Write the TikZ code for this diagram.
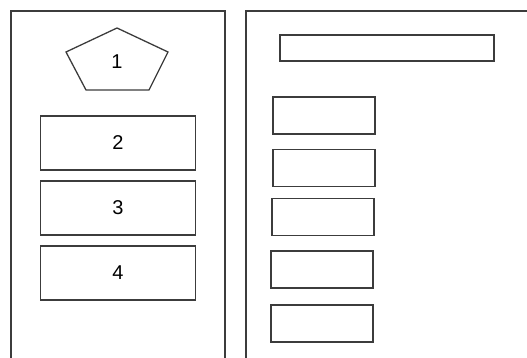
\documentclass[tikz,border=0pt]{standalone}
\usepackage{fontspec}
\setmainfont{Liberation Sans}
\definecolor{tratto}{RGB}{60,60,60}

\begin{document}
\begin{tikzpicture}[
  x=1pt, y=-1pt,
  font=\fontsize{20}{24}\selectfont,
  pannello/.style={draw=tratto, line width=1.4pt},
  casella/.style={draw=tratto, line width=1.5pt, inner sep=0pt,
                  minimum width=155pt, minimum height=54pt},
  casellina/.style={draw=tratto, line width=1.5pt, inner sep=0pt,
                    minimum width=102pt, minimum height=37pt}
]
\useasboundingbox (0,0) rectangle (527,358);

%--------------------------------------------------------------
% Pannelli (aperti in basso)
%--------------------------------------------------------------
\draw[pannello] (11,358) -- (11,11) -- (225,11) -- (225,358);
\draw[pannello] (246,358) -- (246,11) -- (527,11);

%--------------------------------------------------------------
% Pannello sinistro: pentagono e caselle numerate
%--------------------------------------------------------------
\draw[draw=tratto, line width=1.3pt]
  (117,28) -- (168,52) -- (149,90) -- (86,90) -- (66,52) -- cycle;
\node (p1) at (117,62) {1};

\foreach \cy/\lab in {143/2, 208/3, 273/4}
  \node[casella] (c\lab) at (118,\cy) {\lab};

%--------------------------------------------------------------
% Pannello destro: barra e caselle vuote
%--------------------------------------------------------------
\node[casellina, minimum width=214pt, minimum height=26pt] (barra) at (387,48) {};

\foreach \cx/\cy/\k in {324/115.5/1, 324/168/2, 323/217/3,
                        322/269.5/4, 322/323.5/5}
  \node[casellina] (v\k) at (\cx,\cy) {};

\end{tikzpicture}
\end{document}
